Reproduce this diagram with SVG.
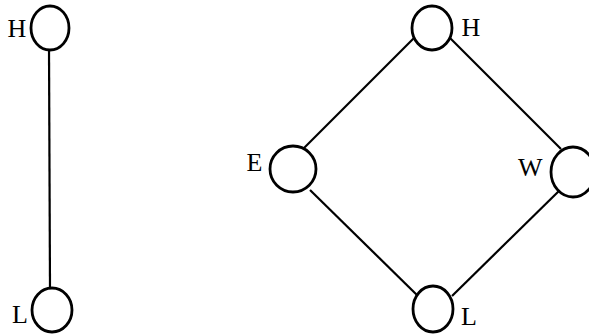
<svg xmlns="http://www.w3.org/2000/svg" width="589" height="335" viewBox="0 0 589 335">
<style>
.n{fill:#fff;stroke:#000;stroke-width:2.8}
.e{stroke:#000;stroke-width:2.2;fill:none}
.t{font-family:"Liberation Serif",serif;font-size:26px;fill:#000}
</style>
<rect width="589" height="335" fill="#fff"/>
<g id="connectors">
<line class="e" x1="49" y1="48" x2="50" y2="289"/>
<line class="e" x1="414" y1="38" x2="303" y2="149"/>
<line class="e" x1="450" y1="38" x2="561" y2="149"/>
<line class="e" x1="310" y1="190" x2="418" y2="296"/>
<line class="e" x1="562" y1="188" x2="452" y2="296"/>
</g>
<g id="left-H"><ellipse class="n" cx="50" cy="28" rx="19" ry="22"/><text class="t" x="7.5" y="37">H</text></g>
<g id="left-L"><ellipse class="n" cx="52" cy="310" rx="20" ry="22"/><text class="t" x="12" y="323">L</text></g>
<g id="H"><ellipse class="n" cx="432" cy="28" rx="20" ry="22"/><text class="t" x="461.5" y="36">H</text></g>
<g id="E"><ellipse class="n" cx="293" cy="169" rx="23" ry="23"/><text class="t" x="246.5" y="171">E</text></g>
<g id="W"><ellipse class="n" cx="573" cy="172" rx="22" ry="25"/><text class="t" x="518" y="176">W</text></g>
<g id="L"><ellipse class="n" cx="433" cy="309" rx="20" ry="23"/><text class="t" x="461" y="325">L</text></g>
</svg>
